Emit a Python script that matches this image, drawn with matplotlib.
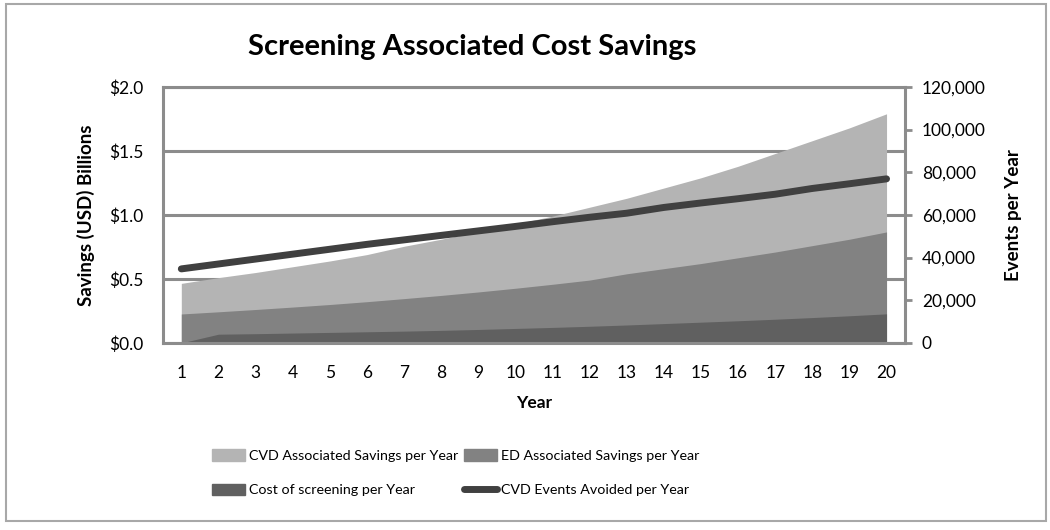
import numpy as np
from matplotlib import pyplot as plt
from matplotlib.patches import Rectangle, Patch
from matplotlib.lines import Line2D
from matplotlib.ticker import FuncFormatter

# dane
years = list(range(1, 21))
cvd_savings = [0.465, 0.51, 0.55, 0.595, 0.64, 0.69, 0.755, 0.81, 0.87, 0.93,
               0.99, 1.06, 1.13, 1.21, 1.29, 1.38, 1.48, 1.58, 1.68, 1.79]
ed_savings = [0.226, 0.243, 0.261, 0.280, 0.300, 0.322, 0.346, 0.371, 0.398, 0.427,
              0.458, 0.491, 0.54, 0.58, 0.62, 0.665, 0.71, 0.76, 0.81, 0.867]
screening_cost = [0.0, 0.068, 0.072, 0.077, 0.082, 0.087, 0.092, 0.098, 0.105, 0.113,
                  0.121, 0.13, 0.14, 0.151, 0.162, 0.173, 0.185, 0.198, 0.212, 0.227]
events_avoided = [34700, 37000, 39300, 41600, 43900, 46200, 48300, 50400, 52500, 54600,
                  56800, 58900, 60800, 63500, 65600, 67600, 69700, 72400, 74600, 76900]

labels = ["CVD Associated Savings per Year", "ED Associated Savings per Year",
          "Cost of screening per Year", "CVD Events Avoided per Year"]

plt.rcParams['font.family'] = ['Lato', 'DejaVu Sans']

grid_col = '#8c8c8c'
c_cvd, c_ed, c_cost, c_line = '#b4b4b4', '#828282', '#606060', '#404040'

fig = plt.figure(figsize=(10.5, 5.3), dpi=100)
ax = fig.add_axes([0.155, 0.353, 0.707, 0.483])

# obszary (nakładające się, od najwyższego)
ax.fill_between(years, 0, cvd_savings, color=c_cvd, lw=0)
ax.fill_between(years, 0, ed_savings, color=c_ed, lw=0)
ax.fill_between(years, 0, screening_cost, color=c_cost, lw=0)

ax.set_xlim(0.5, 20.5)
ax.set_ylim(0, 2.0)
ax.set_yticks([0, 0.5, 1.0, 1.5, 2.0])
ax.yaxis.set_major_formatter(FuncFormatter(lambda v, p: "${:.1f}".format(v)))
ax.set_xticks(years)
ax.tick_params(axis='both', length=0, labelsize=12.5)
ax.tick_params(axis='x', pad=16)
ax.tick_params(axis='y', pad=14)
ax.set_axisbelow(True)
ax.grid(axis='y', color=grid_col, lw=2.2)
for s in ['left', 'top', 'bottom']:
    ax.spines[s].set_color(grid_col)
    ax.spines[s].set_linewidth(2.2)
ax.spines['right'].set_visible(False)
ax.set_xlabel("Year", fontsize=12.5, fontweight='bold', labelpad=10)
ax.set_ylabel("Savings (USD) Billions", fontsize=13.5, fontweight='bold', labelpad=10)

# druga oś - liczba zdarzeń
ax2 = ax.twinx()
ax2.plot(years, events_avoided, color=c_line, lw=5, solid_capstyle='round')
ax2.set_ylim(0, 120000)
ax2.set_yticks(np.arange(0, 120001, 20000))
ax2.yaxis.set_major_formatter(FuncFormatter(lambda v, p: "{:,.0f}".format(v)))
ax2.tick_params(axis='y', direction='out', length=5, width=2, color=grid_col, labelsize=12.5, pad=7)
for s in ['left', 'top', 'bottom']:
    ax2.spines[s].set_visible(False)
ax2.spines['right'].set_color(grid_col)
ax2.spines['right'].set_linewidth(2.2)
ax2.set_ylabel("Events per Year", fontsize=13.5, fontweight='bold', labelpad=14)

fig.text(0.45, 0.911, "Screening Associated Cost Savings", ha='center', va='center',
         fontsize=21, fontweight='bold')

# legenda: kolejność kolumnowa
handles = [Patch(color=c_cvd), Patch(color=c_cost), Patch(color=c_ed),
           Line2D([], [], color=c_line, lw=5, solid_capstyle='round')]
leg_labels = [labels[0], labels[2], labels[1], labels[3]]
fig.legend(handles, leg_labels, ncol=2, frameon=False, loc='upper left',
           bbox_to_anchor=(0.202, 0.152), fontsize=10.3, handlelength=2.3,
           handleheight=0.85, handletextpad=0.3, columnspacing=0.4, labelspacing=1.5,
           borderaxespad=0, borderpad=0)

# ramka wokół wykresu
fig.patches.append(Rectangle((0.006, 0.017), 0.99, 0.976, transform=fig.transFigure,
                             fill=False, edgecolor='#a8a8a8', lw=1.5))

fig.savefig("out.png", dpi=100)
